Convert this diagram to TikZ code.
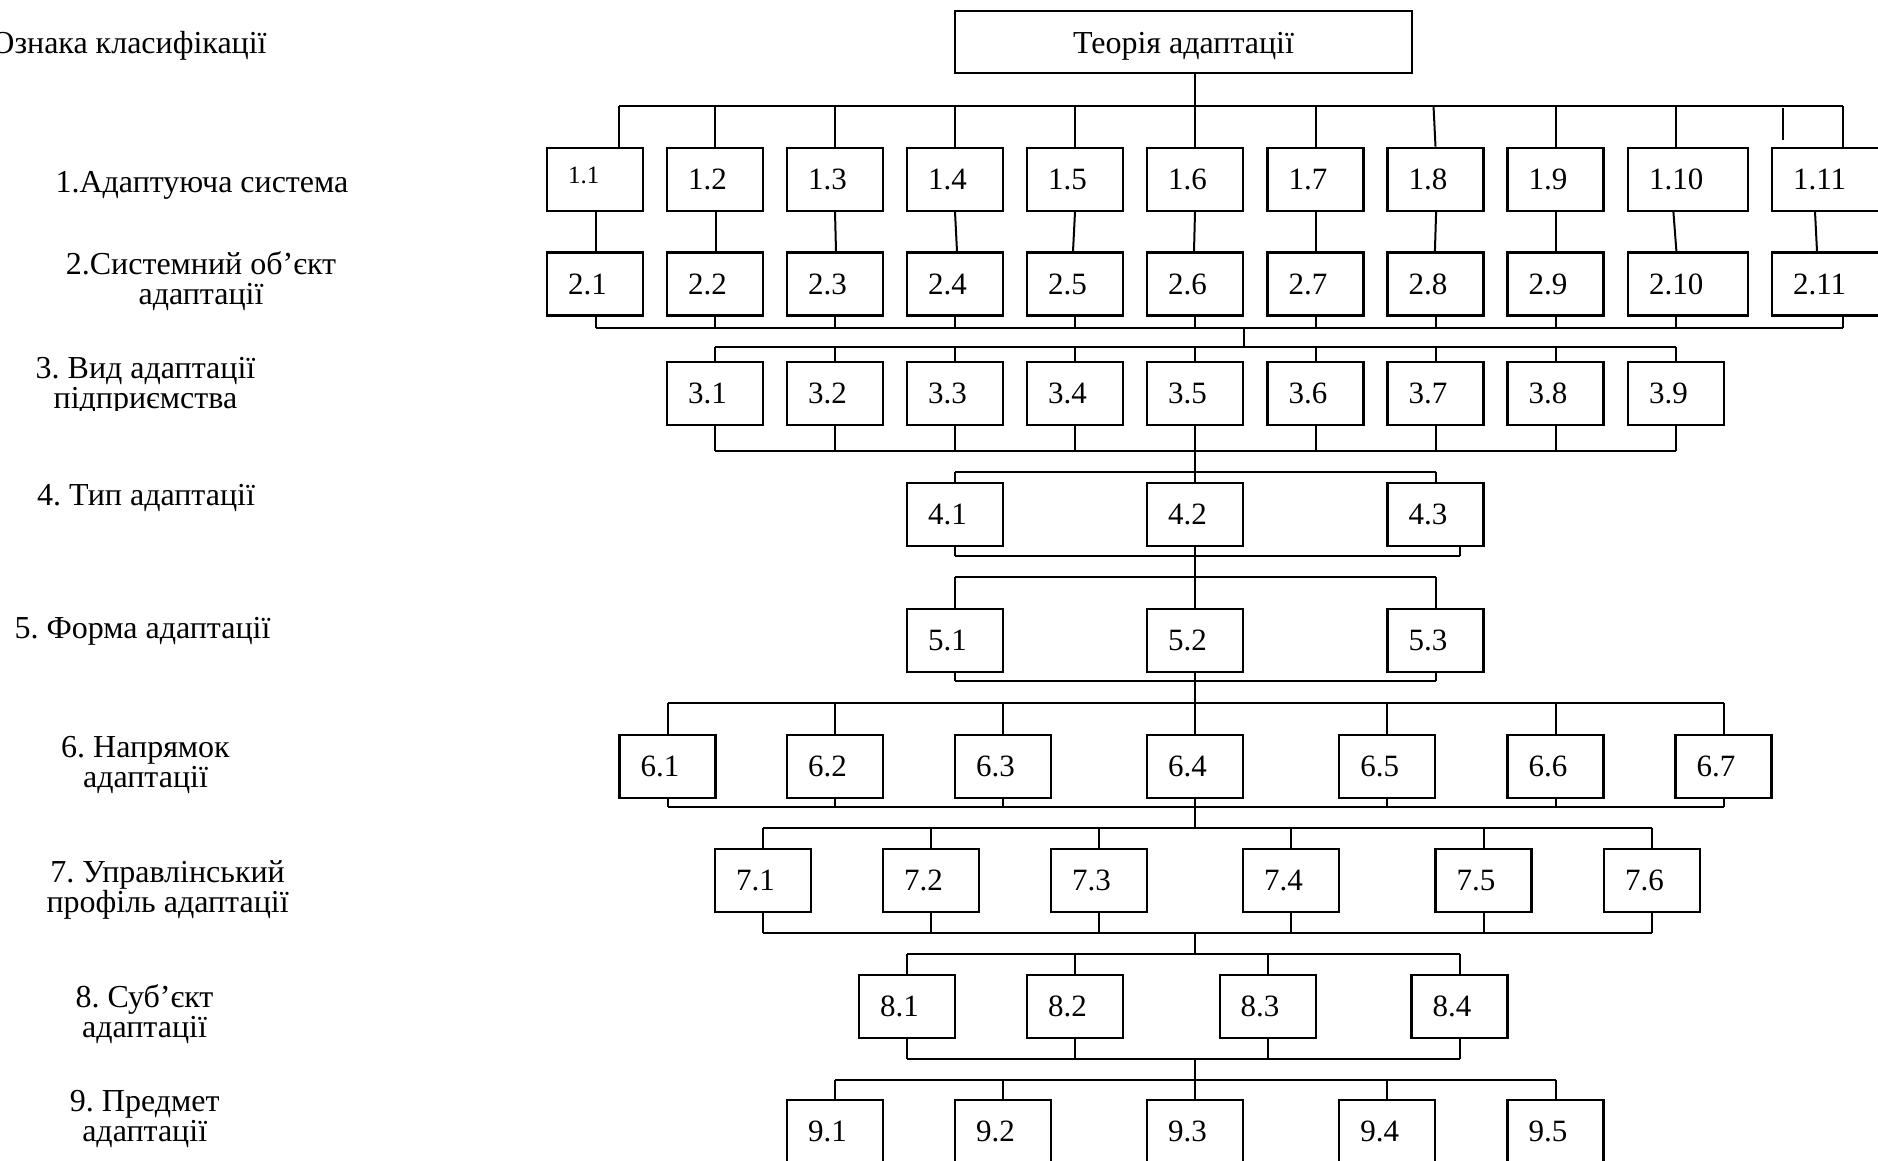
\documentclass[tikz,border=0pt]{standalone}
\usepackage{fontspec}
\setmainfont{Liberation Serif}
\frenchspacing
\begin{document}
\begin{tikzpicture}[x=0.5pt,y=-0.5pt,
  bx/.style={draw, line width=1.15pt, minimum width=48pt, minimum height=31.5pt,
    inner xsep=10.5pt, inner ysep=0pt, text width=27pt, align=left,
    font=\fontsize{15.5}{18}\selectfont},
  wbx/.style={bx, minimum width=60pt, text width=39pt},
  ebx/.style={bx, minimum width=54pt, text width=33pt},
  ln/.style={line width=1pt},
  lbl/.style={align=center, inner sep=0pt, font=\fontsize{16}{15}\selectfont}]
\useasboundingbox (0,0) rectangle (1878,1161);

% ---- left labels
\node[lbl, anchor=east] (l0) at (267,45.5) {Ознака класифікації};
\node[lbl] (l1) at (202,185.5) {1.Адаптуюча система};
\node[lbl] (l2) at (201,281) {2.Системний об’єкт\\адаптації};
\begin{scope}
  \clip (0,340) rectangle (400,410);
  \node[lbl] (l3) at (145.5,386.5) {3. Вид адаптації\\підприємства};
\end{scope}
\node[lbl] (l4) at (146,497.5) {4. Тип адаптації};
\node[lbl] (l5) at (142.5,631) {5. Форма адаптації};
\node[lbl] (l6) at (145.5,764.5) {6. Напрямок\\адаптації};
\node[lbl] (l7) at (167.6,889.5) {7. Управлінський\\профіль адаптації};
\node[lbl] (l8) at (144.5,1014.5) {8. Суб’єкт\\адаптації};
\node[lbl] (l9) at (144.7,1119) {9. Предмет\\адаптації};

% ---- title box
\node[draw, line width=1.15pt, minimum width=228.5pt, minimum height=31pt,
  inner sep=0pt, font=\fontsize{16}{18}\selectfont] (top) at (1183.5,42)
  {\raisebox{-5.9pt}[0pt][0pt]{Теорія адаптації}};

% ---- row 1
\node[bx] (b11) at (595,179.2) {\fontsize{12.5}{12}\selectfont\raisebox{-1.9pt}[0pt][0pt]{1.1}};
\node[bx] (b12) at (715,179.2) {1.2};
\node[bx] (b13) at (835,179.2) {1.3};
\node[bx] (b14) at (955,179.2) {1.4};
\node[bx] (b15) at (1075,179.2) {1.5};
\node[bx] (b16) at (1195,179.2) {1.6};
\node[bx] (b17) at (1315.5,179.2) {1.7};
\node[bx] (b18) at (1435.5,179.2) {1.8};
\node[bx] (b19) at (1555.5,179.2) {1.9};
\node[wbx] (b110) at (1688,179.2) {1.10};
\node[ebx] (b111) at (1826,179.2) {1.11};
% ---- row 2
\node[bx] (b21) at (595,284) {2.1};
\node[bx] (b22) at (715,284) {2.2};
\node[bx] (b23) at (835,284) {2.3};
\node[bx] (b24) at (955,284) {2.4};
\node[bx] (b25) at (1075,284) {2.5};
\node[bx] (b26) at (1195,284) {2.6};
\node[bx] (b27) at (1315.5,284) {2.7};
\node[bx] (b28) at (1435.5,284) {2.8};
\node[bx] (b29) at (1555.5,284) {2.9};
\node[wbx] (b210) at (1688,284) {2.10};
\node[ebx] (b211) at (1826,284) {2.11};
% ---- row 3
\node[bx] (b31) at (715,393.2) {3.1};
\node[bx] (b32) at (835,393.2) {3.2};
\node[bx] (b33) at (955,393.2) {3.3};
\node[bx] (b34) at (1075,393.2) {3.4};
\node[bx] (b35) at (1195,393.2) {3.5};
\node[bx] (b36) at (1315.5,393.2) {3.6};
\node[bx] (b37) at (1435.5,393.2) {3.7};
\node[bx] (b38) at (1555.5,393.2) {3.8};
\node[bx] (b39) at (1676,393.2) {3.9};
% ---- row 4
\node[bx] (b41) at (955,514.5) {4.1};
\node[bx] (b42) at (1195,514.5) {4.2};
\node[bx] (b43) at (1435.5,514.5) {4.3};
% ---- row 5
\node[bx] (b51) at (955,640.3) {5.1};
\node[bx] (b52) at (1195,640.3) {5.2};
\node[bx] (b53) at (1435.5,640.3) {5.3};
% ---- row 6
\node[bx] (b61) at (667.5,766.2) {6.1};
\node[bx] (b62) at (835,766.2) {6.2};
\node[bx] (b63) at (1003.2,766.2) {6.3};
\node[bx] (b64) at (1195,766.2) {6.4};
\node[bx] (b65) at (1387.3,766.2) {6.5};
\node[bx] (b66) at (1555.5,766.2) {6.6};
\node[bx] (b67) at (1723.6,766.2) {6.7};
% ---- row 7
\node[bx] (b71) at (763,880.3) {7.1};
\node[bx] (b72) at (931,880.3) {7.2};
\node[bx] (b73) at (1099,880.3) {7.3};
\node[bx] (b74) at (1291,880.3) {7.4};
\node[bx] (b75) at (1483.6,880.3) {7.5};
\node[bx] (b76) at (1652,880.3) {7.6};
% ---- row 8
\node[bx] (b81) at (907,1006.2) {8.1};
\node[bx] (b82) at (1075,1006.2) {8.2};
\node[bx] (b83) at (1267.7,1006.2) {8.3};
\node[bx] (b84) at (1459.6,1006.2) {8.4};
% ---- row 9
\node[bx] (b91) at (835,1131.8) {9.1};
\node[bx] (b92) at (1003.2,1131.8) {9.2};
\node[bx] (b93) at (1195,1131.8) {9.3};
\node[bx] (b94) at (1387.3,1131.8) {9.4};
\node[bx] (b95) at (1555.5,1131.8) {9.5};

% ---- bus coordinates
\coordinate (u1a) at (619,106);    \coordinate (u1b) at (1843,106);
\coordinate (u2a) at (596,327.7);  \coordinate (u2b) at (1843,327.7);
\coordinate (u3a) at (715,346.7);  \coordinate (u3b) at (1675.6,346.7);
\coordinate (u4a) at (715,451);    \coordinate (u4b) at (1675.6,451);
\coordinate (u5a) at (955,472);    \coordinate (u5b) at (1435.6,472);
\coordinate (u6a) at (955,556);    \coordinate (u6b) at (1460,556);
\coordinate (u7a) at (955,576.7);  \coordinate (u7b) at (1435.6,576.7);
\coordinate (u8a) at (955,681.3);  \coordinate (u8b) at (1435.6,681.3);
\coordinate (u9a) at (667.5,702.7);  \coordinate (u9b) at (1724,702.7);
\coordinate (u10a) at (667.5,807.3); \coordinate (u10b) at (1724,807.3);
\coordinate (u11a) at (763,828.3);   \coordinate (u11b) at (1652,828.3);
\coordinate (u12a) at (763,932.7);   \coordinate (u12b) at (1652,932.7);
\coordinate (u13a) at (907,954);     \coordinate (u13b) at (1459.6,954);
\coordinate (u14a) at (907,1058.7);  \coordinate (u14b) at (1459.6,1058.7);
\coordinate (u15a) at (835,1080);    \coordinate (u15b) at (1555.5,1080);
\foreach \i in {1,...,15} \draw[ln] (u\i a) -- (u\i b);

% stray tick under the first bus
\coordinate (t1) at (1783,108); \coordinate (t2) at (1783,140);
\draw[ln] (t1) -- (t2);

% title to bus 1
\draw[ln] ([xshift=5.75pt]top.south) -- ([xshift=5.75pt]top.south |- u1a);

% bus 1 to row 1
\draw[ln] ([xshift=12pt]b11.north) -- ([xshift=12pt]b11.north |- u1a);
\foreach \n in {b12,b13,b14,b15,b16,b17,b19}
  \draw[ln] (\n.north) -- (\n.north |- u1a);
\draw[ln] ([xshift=-1pt]b18.north |- u1a) -- (b18.north);
\draw[ln] ([xshift=-6pt]b110.north) -- ([xshift=-6pt]b110.north |- u1a);
\draw[ln] ([xshift=8.5pt]b111.north) -- ([xshift=8.5pt]b111.north |- u1a);

% row 1 to row 2
\foreach \a/\b/\p/\q in {b11/b21/0.5/0.5, b12/b22/0.5/0.5, b13/b23/0/0.5,
    b14/b24/0/1, b15/b25/0/-1, b16/b26/0/-0.5, b17/b27/0/0, b18/b28/0.3/-0.3,
    b19/b29/0.3/0.3, b110/b210/-7.3/-5.8, b111/b211/-5.5/-4.5}
  \draw[ln] ([xshift=\p pt]\a.south) -- ([xshift=\q pt]\b.north);

% row 2 to bus 2
\draw[ln] ([xshift=0.5pt]b21.south) -- ([xshift=0.5pt]b21.south |- u2a);
\foreach \n in {b22,b23,b24,b25,b26,b27,b28,b29}
  \draw[ln] (\n.south) -- (\n.south |- u2a);
\draw[ln] ([xshift=-6.2pt]b210.south) -- ([xshift=-6.2pt]b210.south |- u2a);
\draw[ln] ([xshift=8.5pt]b211.south) -- ([xshift=8.5pt]b211.south |- u2a);

% bus 2 to bus 3
\draw[ln] (b26.south east |- u2a) -- (b26.south east |- u3a);

% row 3
\foreach \n in {b31,b32,b33,b34,b35,b36,b37,b38,b39}
  \draw[ln] (\n.north) -- (\n.north |- u3a);
\foreach \n in {b31,b32,b33,b34,b36,b37,b38,b39}
  \draw[ln] (\n.south) -- (\n.south |- u4a);
\draw[ln] (b35.south) -- (b42.north);

% row 4
\foreach \n in {b41,b43} \draw[ln] (\n.north) -- (\n.north |- u5a);
\draw[ln] (b41.south) -- (b41.south |- u6a);
\draw[ln] ([xshift=12.2pt]b43.south) -- ([xshift=12.2pt]b43.south |- u6a);
\draw[ln] (b42.south) -- (b52.north);

% row 5
\foreach \n in {b51,b53} \draw[ln] (\n.north) -- (\n.north |- u7a);
\foreach \n in {b51,b53} \draw[ln] (\n.south) -- (\n.south |- u8a);
\draw[ln] (b52.south) -- (b64.north);

% row 6
\foreach \n in {b61,b62,b63,b65,b66,b67} \draw[ln] (\n.north) -- (\n.north |- u9a);
\foreach \n in {b61,b62,b63,b65,b66,b67} \draw[ln] (\n.south) -- (\n.south |- u10a);
\draw[ln] (b64.south) -- (b64.south |- u11a);

% row 7
\foreach \n in {b71,b72,b73,b74,b75,b76} \draw[ln] (\n.north) -- (\n.north |- u11a);
\foreach \n in {b71,b72,b73,b74,b75,b76} \draw[ln] (\n.south) -- (\n.south |- u12a);
\draw[ln] (b93.north |- u12a) -- (b93.north |- u13a);

% row 8
\foreach \n in {b81,b82,b83,b84} \draw[ln] (\n.north) -- (\n.north |- u13a);
\foreach \n in {b81,b82,b83,b84} \draw[ln] (\n.south) -- (\n.south |- u14a);
\draw[ln] (b93.north |- u14a) -- (b93.north);

% row 9
\foreach \n in {b91,b92,b94,b95} \draw[ln] (\n.north) -- (\n.north |- u15a);
\end{tikzpicture}
\end{document}
